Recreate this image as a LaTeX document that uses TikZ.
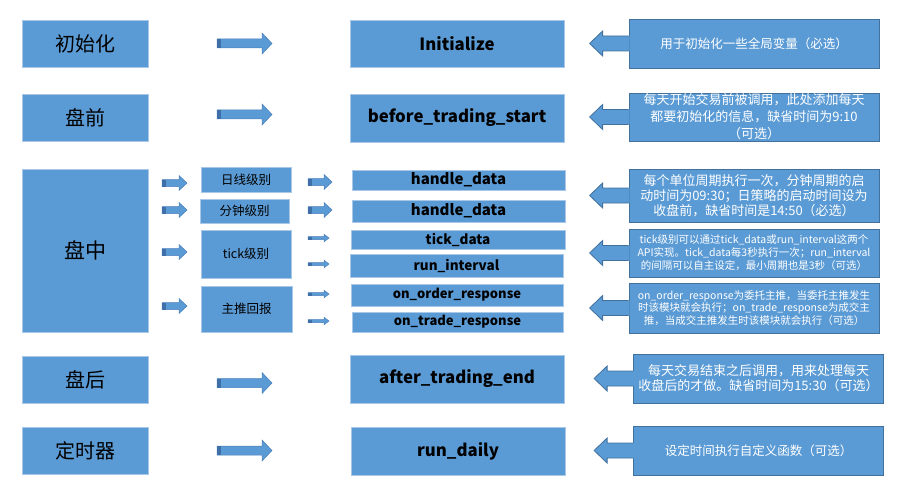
\documentclass[tikz,border=0pt]{standalone}
\usepackage{fontspec}
\setmainfont{Noto Sans CJK SC}
\usepackage{tikz}
\usetikzlibrary{calc}

\definecolor{boxblue}{HTML}{5B9BD5}
\definecolor{boxline}{HTML}{A9C8E8}
\definecolor{noteline}{HTML}{41719C}
\definecolor{arrowline}{HTML}{4A7EBB}
\definecolor{arrowtail}{HTML}{3F6FA8}

\tikzset{
  stage/.style={rectangle, fill=boxblue, draw=boxline, line width=0.6pt, minimum width=126pt, minimum height=47pt, inner sep=0pt, font=\fontsize{20}{24}\selectfont},
  level/.style={stage, minimum width=90pt, minimum height=25pt, font=\fontsize{12.5}{15}\selectfont},
  func/.style={rectangle, fill=boxblue, draw=boxline, line width=0.6pt, minimum width=214pt, minimum height=48pt, inner sep=0pt, font=\bfseries\fontsize{16.8}{19}\selectfont},
  subfunc/.style={func, minimum height=20pt, font=\bfseries\fontsize{13.5}{16}\selectfont},
  note/.style={rectangle, fill=boxblue, draw=noteline, line width=0.8pt, minimum width=250pt, minimum height=49pt, inner sep=0pt, align=center, text=white, font=\fontsize{13}{15}\selectfont},
  blockarr/.style={fill=boxblue, draw=arrowline, line width=0.5pt}
}

% block arrow: x0, x1, y, body half, head half, head length
\newcommand{\blockarrow}[6]{%
  \filldraw[blockarr] (#1,{#3-#4}) -- ({#2-#6},{#3-#4}) -- ({#2-#6},{#3-#5}) -- (#2,#3)
    -- ({#2-#6},{#3+#5}) -- ({#2-#6},{#3+#4}) -- (#1,{#3+#4}) -- cycle;
  \fill[arrowtail] (#1,{#3-#4}) rectangle ({#1+4},{#3+#4});
}
% pointer on the left side of a note
\newcommand{\notepointer}[1]{%
  \fill[boxblue] ([xshift=1pt,yshift=7.5pt]#1.west) -- ++(-27pt,0pt) -- ++(0pt,5pt) -- ++(-13pt,-12.5pt)
    -- ++(13pt,-12.5pt) -- ++(0pt,5pt) -- ++(27pt,0pt) -- cycle;
  \draw[noteline, line width=0.8pt] ([yshift=7.5pt]#1.west) -- ++(-26pt,0pt) -- ++(0pt,5pt) -- ++(-13pt,-12.5pt)
    -- ++(13pt,-12.5pt) -- ++(0pt,5pt) -- ++(26pt,0pt);
}

\begin{document}
\begin{tikzpicture}[x=1pt, y=-1pt]
\useasboundingbox (0,0) rectangle (904,492);

% Stages
\node[stage] (init) at (85,43.5) {初始化};
\node[stage] (pre) at (85,117.5) {盘前};
\node[stage, minimum height=163pt, font=\fontsize{21}{25}\selectfont] (intra) at (85,250.5) {盘中};
\node[stage] (post) at (85,379.5) {盘后};
\node[stage] (timer) at (85,450.5) {定时器};

% Levels
\node[level] (daily) at (246,179.5) {日线级别};
\node[level, minimum width=89pt, minimum height=24pt] (minute) at (244.5,211) {分钟级别};
\node[level, minimum height=48pt] (tick) at (246,254) {tick级别};
\node[level, minimum width=91pt, minimum height=46pt] (push) at (246.5,309) {主推回报};

% Functions
\node[func, minimum height=47pt] (initfn) at (457,43.5) {Initialize};
\node[func] (beforefn) at (457,118) {before\_trading\_start};
\node[subfunc, minimum width=213pt, font=\bfseries\fontsize{15}{18}\selectfont] (hdday) at (458.5,180) {handle\_data};
\node[subfunc, minimum width=213pt, minimum height=22pt, font=\bfseries\fontsize{15}{18}\selectfont] (hdmin) at (458.5,211) {handle\_data};
\node[subfunc, minimum height=19pt] (tickfn) at (458,239.5) {tick\_data};
\node[subfunc, minimum width=213pt, minimum height=23pt] (intervalfn) at (456.5,265.5) {run\_interval};
\node[subfunc, minimum width=212pt, minimum height=22pt, font=\bfseries\fontsize{13}{16}\selectfont] (orderfn) at (457,295) {on\_order\_response};
\node[subfunc, minimum width=211pt, font=\bfseries\fontsize{13}{16}\selectfont] (tradefn) at (457.5,322) {on\_trade\_response};
\node[func] (afterfn) at (457,379) {after\_trading\_end};
\node[func] (dailyfn) at (458,451) {run\_daily};

% Notes
\node[note, font=\fontsize{12.5}{15}\selectfont] (note1) at (754,43.5) {用于初始化一些全局变量（必选）};
\node[note, minimum height=48pt, font=\fontsize{13}{17}\selectfont] (note2) at (754,117) {每天开始交易前被调用，此处添加每天\\都要初始化的信息，缺省时间为9:10\\（可选）};
\node[note, minimum height=53pt] (note3) at (754,195.5) {每个单位周期执行一次，分钟周期的启\\动时间为09:30；日策略的启动时间设为\\收盘前，缺省时间是14:50（必选）};
\node[note, minimum height=48pt, font=\fontsize{10.5}{13}\selectfont] (note4) at (754,253) {tick级别可以通过tick\_data或run\_interval这两个\\API实现。tick\_data每3秒执行一次；run\_interval\\的间隔可以自主设定，最小周期也是3秒（可选）};
\node[note, minimum height=50pt, font=\fontsize{10.5}{12.5}\selectfont] (note5) at (754,308) {on\_order\_response为委托主推，当委托主推发生\\时该模块就会执行；on\_trade\_response为成交主\\推，当成交主推发生时该模块就会执行（可选）};
\node[note] (note6) at (758.5,378.5) {每天交易结束之后调用，用来处理每天\\收盘后的才做。缺省时间为15:30（可选）};
\node[note, font=\fontsize{12.5}{15}\selectfont] (note7) at (758.5,450.5) {设定时间执行自定义函数（可选）};

% Pointers
\notepointer{note1}
\notepointer{note2}
\notepointer{note3}
\notepointer{note4}
\notepointer{note5}
\notepointer{note6}
\notepointer{note7}

% Block arrows
\blockarrow{217}{272}{43.5}{4.5}{10.5}{10}
\blockarrow{217}{272}{114.5}{4.5}{10.5}{10}
\blockarrow{217}{272}{383}{4.5}{10.5}{10}
\blockarrow{217}{272}{450.5}{4.5}{10.5}{10}
\blockarrow{162}{187}{183}{3.5}{7.5}{8}
\blockarrow{162}{187}{210}{3.5}{7.5}{8}
\blockarrow{162}{187}{252}{3.5}{7.5}{8}
\blockarrow{162}{187}{306}{3.5}{7.5}{8}
\blockarrow{308}{332}{182}{3.5}{7.5}{8}
\blockarrow{308}{332}{210}{3.5}{7.5}{8}
\blockarrow{308}{329}{238}{1.5}{3.8}{5}
\blockarrow{308}{329}{264}{1.5}{3.8}{5}
\blockarrow{308}{329}{294}{1.5}{3.8}{5}
\blockarrow{308}{329}{321}{1.5}{3.8}{5}
\end{tikzpicture}
\end{document}
